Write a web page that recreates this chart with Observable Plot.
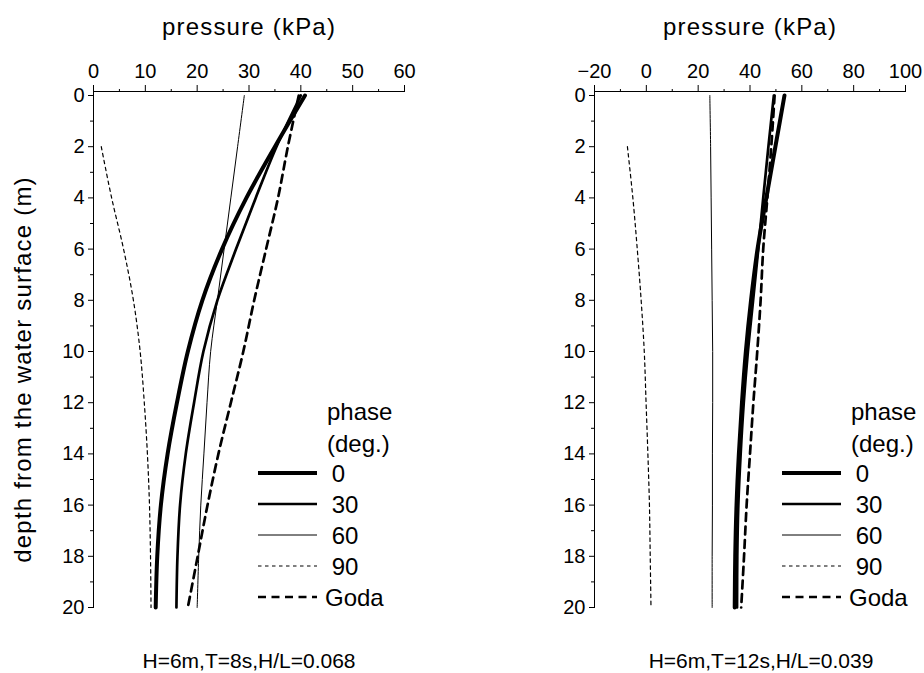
<!DOCTYPE html>
<html><head><meta charset="utf-8">
<script src="https://cdn.jsdelivr.net/npm/d3@7"></script>
<script src="https://cdn.jsdelivr.net/npm/@observablehq/plot@0.6"></script>
<style>
body{margin:0;background:#fff;}
#wrap{position:relative;width:924px;height:673px;overflow:hidden;background:#fff;font-family:"Liberation Sans",Arial,sans-serif;}
#wrap svg{position:absolute;top:0;}
</style></head><body><div id="wrap"></div>
<script>
// ---- data ----
const phases = ["0", "30", "60", "90", "Goda"];
const depths = [0, 2, 4, 6, 8, 10, 12, 14, 16, 18, 20];
const depths90 = [2, 4, 6, 8, 10, 12, 14, 16, 18, 20];
const depthMajor = [0, 2, 4, 6, 8, 10, 12, 14, 16, 18, 20];
const depthMinor = [1, 3, 5, 7, 9, 11, 13, 15, 17, 19];

const leftXMajor = [0, 10, 20, 30, 40, 50, 60];
const leftXMinor = [5, 15, 25, 35, 45, 55];
const rightXMajor = [-20, 0, 20, 40, 60, 80, 100];
const rightXMinor = [-10, 10, 30, 50, 70, 90];

const leftPhase0  = [40.8, 35.0, 29.5, 24.8, 21.0, 18.2, 16.1, 14.3, 13.0, 12.3, 12.0];
const leftPhase30 = [40.0, 35.3, 31.3, 27.5, 23.9, 21.2, 19.4, 17.8, 16.7, 16.2, 16.0];
const leftPhase60 = [29.1, 27.8, 26.5, 25.2, 23.9, 22.6, 21.9, 21.3, 20.7, 20.3, 20.0];
const leftPhase90 = [1.5, 3.5, 5.8, 7.7, 9.0, 9.8, 10.4, 10.8, 11.0, 11.1];
const leftGoda    = [39.6, 37.5, 35.6, 33.3, 31.0, 28.9, 26.5, 24.1, 22.0, 20.1, 18.2];

const rightPhase0  = [53.3, 49.8, 46.3, 42.9, 40.4, 38.4, 36.9, 35.7, 34.8, 34.3, 34.1];
const rightPhase30 = [49.2, 47.1, 45.1, 43.2, 41.2, 39.2, 37.6, 36.4, 35.5, 35.1, 35.0];
const rightPhase60 = [24.5, 24.8, 25.0, 25.2, 25.4, 25.6, 25.6, 25.5, 25.5, 25.4, 25.4];
const rightPhase90 = [-7.3, -5.2, -3.5, -2.0, -0.8, -0.1, 0.6, 1.2, 1.5, 1.8];
const rightGoda    = [49.5, 48.2, 46.7, 45.1, 44.1, 42.8, 41.3, 40.0, 38.7, 37.7, 36.6];

const xLabel = "pressure (kPa)";
const yLabel = "depth from the water surface (m)";
const leftCaption = "H=6m,T=8s,H/L=0.068";
const rightCaption = "H=6m,T=12s,H/L=0.039";
const legendTitle = ["phase", "(deg.)"];

// ---- styles ----
const lineStyle = {
  "0": {w: 4, dash: null},
  "30": {w: 2.7, dash: null},
  "60": {w: 1, dash: null},
  "90": {w: 1.2, dash: "3.5,3.5"},
  "Goda": {w: 2.7, dash: "8,5.5"}
};
const drawOrder = ["90", "60", "Goda", "30", "0"];

function rows(series) {
  const out = [];
  for (const [phase, vals] of Object.entries(series)) {
    const ds = vals.length === depths.length ? depths : depths90;
    vals.forEach((p, i) => out.push({phase, depth: ds[i], p}));
  }
  return out;
}
const leftRows = rows({"0": leftPhase0, "30": leftPhase30, "60": leftPhase60, "90": leftPhase90, "Goda": leftGoda});
const rightRows = rows({"0": rightPhase0, "30": rightPhase30, "60": rightPhase60, "90": rightPhase90, "Goda": rightGoda});

const fmt = d => d < 0 ? "\u2212" + (-d) : String(d);

function panel({data, xDomain, xMajor, xMinor, marginLeft, marginRight, withYLabel, caption, captionDx}) {
  const marks = [
    Plot.frame({anchor: "top", stroke: "black"}),
    Plot.frame({anchor: "left", stroke: "black"}),
    Plot.axisX({anchor: "top", ticks: xMajor, tickSize: 7, tickPadding: 7, tickFormat: fmt, fontSize: 20, label: null}),
    Plot.axisX({anchor: "top", ticks: xMinor, tickSize: 3, text: null, label: null}),
    Plot.axisY({anchor: "left", ticks: depthMajor, tickSize: 5, tickPadding: 4, fontSize: 20, label: null}),
    Plot.axisY({anchor: "left", ticks: depthMinor, tickSize: 3, text: null, label: null}),
    Plot.text([xLabel], {frameAnchor: "top", dy: -64, fontSize: 24, lineAnchor: "middle"}),
    Plot.text([caption], {frameAnchor: "bottom", dy: 54, dx: captionDx, fontSize: 21, lineAnchor: "middle"})
  ];
  if (withYLabel) marks.push(Plot.text([yLabel], {frameAnchor: "left", rotate: -90, dx: -70, dy: 20, fontSize: 24, textAnchor: "middle", lineAnchor: "middle"}));
  for (const ph of drawOrder) {
    const s = lineStyle[ph];
    marks.push(Plot.line(data.filter(d => d.phase === ph), {
      x: "p", y: "depth", curve: "catmull-rom", stroke: "black",
      strokeWidth: s.w, strokeDasharray: s.dash || undefined
    }));
  }
  const svg = Plot.plot({
    width: 462, height: 673,
    marginTop: 91, marginBottom: 66, marginLeft, marginRight,
    style: {fontFamily: "'Liberation Sans', Arial, sans-serif", fontSize: "20px", color: "#000", background: "transparent", overflow: "visible"},
    x: {domain: xDomain},
    y: {domain: [0, 20], reverse: true, insetTop: 4},
    marks
  });
  svg.querySelectorAll("text").forEach(t => {
    if (t.textContent === xLabel || t.textContent === yLabel) t.style.letterSpacing = "1.2px";
  });
  return svg;
}

const wrap = document.getElementById("wrap");
const leftSvg = panel({data: leftRows, xDomain: [0, 60], xMajor: leftXMajor, xMinor: leftXMinor, marginLeft: 93, marginRight: 58, withYLabel: true, caption: leftCaption, captionDx: 0});
leftSvg.style.left = "0px";
wrap.appendChild(leftSvg);
const rightSvg = panel({data: rightRows, xDomain: [-20, 100], xMajor: rightXMajor, xMinor: rightXMinor, marginLeft: 132, marginRight: 19, withYLabel: false, caption: rightCaption, captionDx: 11});
rightSvg.style.left = "462px";
wrap.appendChild(rightSvg);

// ---- legends ----
const legendSvg = d3.select(wrap).append("svg")
  .attr("width", 924).attr("height", 673)
  .style("left", "0px").style("pointer-events", "none")
  .style("font-family", "'Liberation Sans', Arial, sans-serif");

function legend(x0) {
  const g = legendSvg.append("g").attr("transform", `translate(${x0},0)`);
  g.selectAll("text.title").data(legendTitle).join("text")
    .attr("x", 69).attr("y", (d, i) => 420 + i * 32)
    .attr("font-size", 24).text(d => d);
  const rowsG = g.selectAll("g.row").data(phases).join("g")
    .attr("transform", (d, i) => `translate(0,${473 + i * 31})`);
  rowsG.append("line").attr("x1", 0).attr("x2", 59).attr("y1", 0).attr("y2", 0)
    .attr("stroke", "black")
    .attr("stroke-width", d => lineStyle[d].w)
    .attr("stroke-dasharray", d => lineStyle[d].dash);
  rowsG.append("text").attr("x", 67).attr("y", 9)
    .attr("font-size", 24).style("white-space", "pre")
    .text(d => d === "Goda" ? d : " " + d);
}
legend(258);
legend(782);
</script></body></html>
